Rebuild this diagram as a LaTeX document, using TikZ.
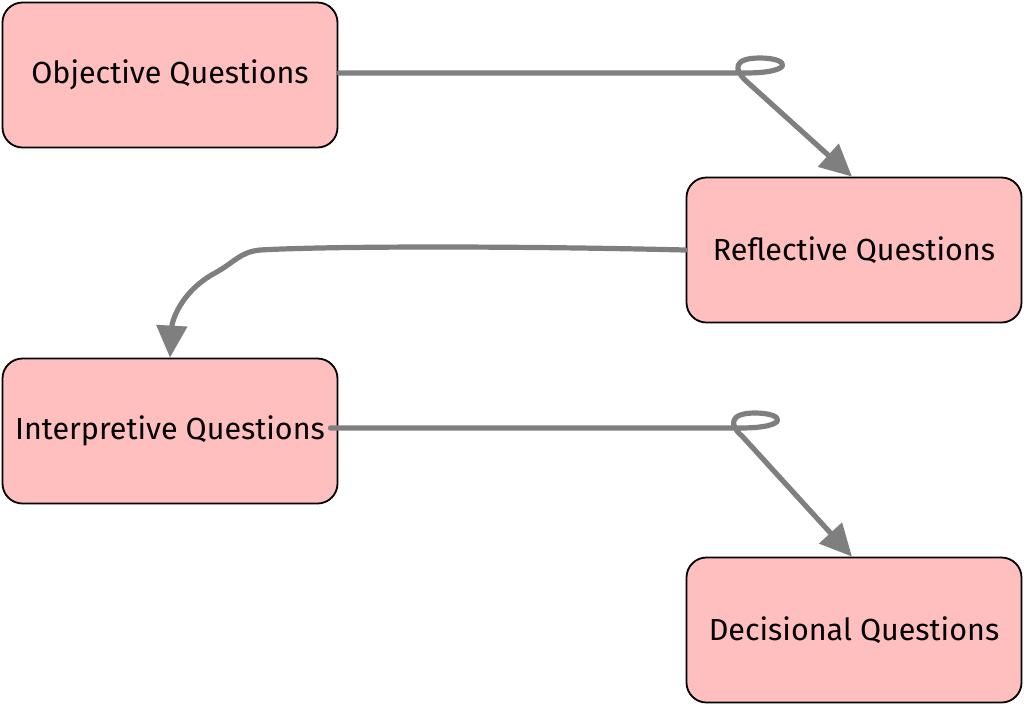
\documentclass[tikz,border=0pt]{standalone}
\usepackage{fontspec}
\setmainfont{Fira Sans}
\usetikzlibrary{arrows.meta}
\definecolor{boxfill}{HTML}{FFBFBF}
\definecolor{linkgray}{HTML}{7F7F7F}
\tikzset{
  qbox/.style={draw=black, line width=1.8pt, fill=boxfill, rounded corners=20pt,
    minimum width=335pt, minimum height=145pt, inner sep=0pt, font=\fontsize{30.5}{34}\selectfont},
  link/.style={draw=linkgray, line width=5.2pt, line cap=round, line join=round,
    -{Triangle[length=32pt,width=30pt]}}
}
\begin{document}
\begin{tikzpicture}[x=1pt,y=-1pt]
\useasboundingbox (0,0) rectangle (1024,705);
\node[qbox] (obj) at (170,75) {Objective Questions};
\node[qbox] (refl) at (854,250) {Reflective Questions};
\node[qbox] (interp) at (170,431) {Interpretive Questions};
\node[qbox] (dec) at (854,630) {Decisional Questions};
\coordinate (l1) at (745,73);
\coordinate (l3) at (740,428);
\draw[link] ([yshift=2pt]obj.east) -- (l1) .. controls (795,73) and (790,58) .. (760,58)
  .. controls (732,58) and (735,70) .. (745,80) -- ([xshift=-2pt]refl.north);
\draw[link] (refl.west) .. controls (520,246) and (330,246) .. (260,250)
  .. controls (240,252) and (235,262) .. (215,273)
  .. controls (180,292) and (172,322) .. ([xshift=0pt]interp.north);
\draw[link] ([xshift=-8pt,yshift=3pt]interp.east) -- (l3) .. controls (790,428) and (785,413) .. (755,413)
  .. controls (728,413) and (730,426) .. (742,436) -- ([xshift=-2pt]dec.north);
\end{tikzpicture}
\end{document}
